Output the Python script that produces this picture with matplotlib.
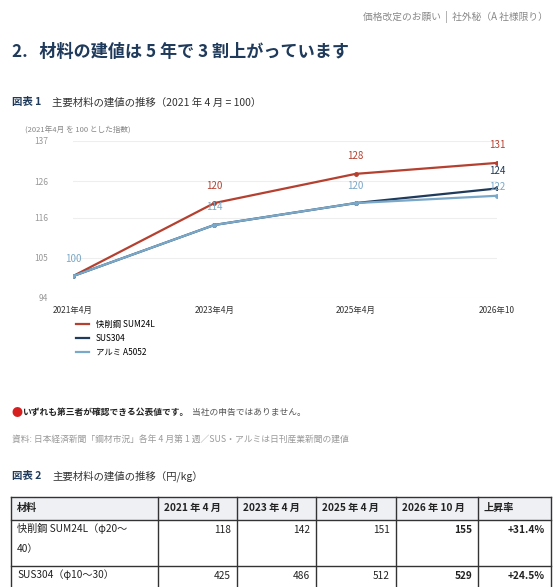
import matplotlib.pyplot as plt
from matplotlib.lines import Line2D
from matplotlib.patches import Rectangle

plt.rcParams['font.family'] = ['Noto Sans CJK JP', 'DejaVu Sans']

periods = ['2021年4月', '2023年4月', '2025年4月', '2026年10']
series_names = ['快削鋼 SUM24L', 'SUS304', 'アルミ A5052']
steel = [100, 120, 128, 131]
sus = [100, 114, 120, 124]
alu = [100, 114, 120, 122]
colors = ['#b5402f', '#1f3a5a', '#7aa8c8']
yticks = [94, 105, 116, 126, 137]

table_header = ['材料', '2021 年 4 月', '2023 年 4 月', '2025 年 4 月', '2026 年 10 月', '上昇率']
table_rows = [
    ['快削鋼 SUM24L（φ20〜\n40）', '118', '142', '151', '155', '+31.4%'],
    ['SUS304（φ10〜30）', '425', '486', '512', '529', '+24.5%'],
]

W, H = 560, 587
fig = plt.figure(figsize=(W / 100, H / 100), dpi=100)
navy = '#1f3a5a'
gray = '#888888'


def txt(x, y, s, **kw):
    fig.text(x / W, 1 - y / H, s, **kw)


txt(548, 17, '価格改定のお願い  |  社外秘（A 社様限り）', fontsize=7, color=gray, ha='right', va='center')
txt(12, 52, '2.   材料の建値は 5 年で 3 割上がっています', fontsize=12.3, color=navy, weight='bold', va='center')
txt(12, 102, '図表 1', fontsize=7.5, color=navy, weight='bold', va='center')
txt(52, 102, '主要材料の建値の推移（2021 年 4 月 = 100）', fontsize=7.5, color='#333333', va='center')
txt(25, 131, '(2021年4月 を 100 とした指数)', fontsize=5.5, color=gray, va='center')

ax = fig.add_axes([73 / W, 1 - 298 / H, (497 - 73) / W, (298 - 141) / H])
x = list(range(len(periods)))
all_vals = [steel, sus, alu]
for vals, c, name in zip(all_vals, colors, series_names):
    ax.plot(x, vals, color=c, lw=1.6, marker='o', ms=2.5, label=name)
for k, (vals, c) in enumerate(zip(all_vals, colors)):
    for i, v in enumerate(vals):
        if (k == 1 and i < 3) or (k == 0 and i == 0):
            continue
        dy = 3 if (k == 2 and i == 3) else 9
        ax.annotate(str(v), (i, v), xytext=(0, dy), textcoords='offset points',
                    ha='center', va='bottom', fontsize=7, color=c)
ax.set_ylim(94, 137)
ax.set_xlim(0, 3)
ax.set_yticks(yticks)
ax.set_xticks(x, periods)
ax.grid(axis='y', color='#eeeeee', lw=0.8)
for s in ax.spines.values():
    s.set_visible(False)
ax.tick_params(length=0, labelsize=6)
ax.tick_params(axis='y', colors='#999999', pad=18)
ax.tick_params(axis='x', colors='#333333', pad=6)

handles = [Line2D([0], [0], color=c, lw=1.6) for c in colors]
fig.legend(handles, series_names, loc='upper left', bbox_to_anchor=(68 / W, 1 - 312 / H),
           frameon=False, fontsize=6, handlelength=1.6, labelspacing=0.6)

txt(11, 413, '●', fontsize=8, color='#d62020', va='center')
txt(22, 413, 'いずれも第三者が確認できる公表値です。', fontsize=6.3, weight='bold', color='#222222', va='center')
txt(192, 413, '当社の申告ではありません。', fontsize=6.3, color='#555555', va='center')
txt(12, 440, '資料: 日本経済新聞「鋼材市況」各年 4 月第 1 週／SUS・アルミは日刊産業新聞の建値', fontsize=6.3, color='#999999', va='center')
txt(12, 476, '図表 2', fontsize=7.5, color=navy, weight='bold', va='center')
txt(52, 476, '主要材料の建値の推移（円/kg）', fontsize=7.5, color='#333333', va='center')

cols = [11, 158, 237, 316, 396, 478, 551]
rows_y = [497, 520, 566, 600]
fig.patches.append(Rectangle((11 / W, 1 - 520 / H), (551 - 11) / W, 23 / H,
                             transform=fig.transFigure, facecolor='#eef0f3', edgecolor='none'))
for yy in rows_y:
    fig.add_artist(Line2D([11 / W, 551 / W], [1 - yy / H] * 2, color='#333333', lw=1))
for xx in cols:
    fig.add_artist(Line2D([xx / W] * 2, [1 - 497 / H, 1 - 600 / H], color='#333333', lw=1))
for j, h in enumerate(table_header):
    txt(cols[j] + 6, 508, h, fontsize=7.3, weight='bold', color='#222222', va='center')
for r, row in enumerate(table_rows):
    ytop = rows_y[r + 1]
    for j, v in enumerate(row):
        if j == 0:
            txt(cols[0] + 6, ytop + 3, v, fontsize=7.3, color='#222222', va='top', linespacing=2.2)
        else:
            wt = 'bold' if j >= 4 else 'normal'
            txt(cols[j + 1] - 6, ytop + 10, v, fontsize=7.3, color='#222222', ha='right', va='center', weight=wt)

fig.savefig('out.png', dpi=100, facecolor='white')
